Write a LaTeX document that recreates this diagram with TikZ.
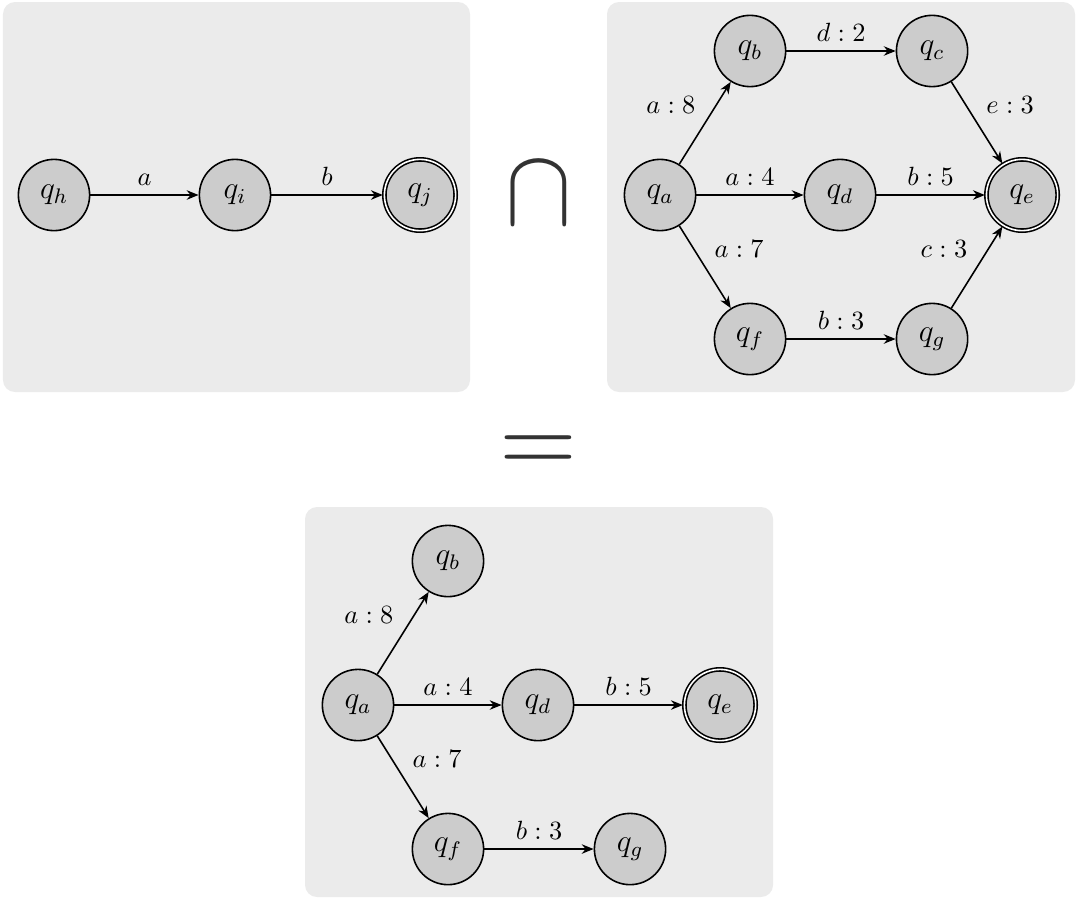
\documentclass[tikz,border=0pt]{standalone}
\usetikzlibrary{automata,arrows.meta}

\begin{document}
\begin{tikzpicture}[
    >={Stealth[length=4.5pt,width=3.6pt]},
    every state/.style={draw,semithick,fill=stfill,minimum size=0.95cm,inner sep=0pt,font=\large},
    panel/.style={fill=panelfill,rounded corners=0.16cm},
    trans/.style={->,semithick,auto},
    bigop/.style={text=black!80,scale=3.8}
  ]
    \colorlet{panelfill}{black!8}
    \colorlet{stfill}{black!20}
    \useasboundingbox (0,0) rectangle (14.373,12);

    % the three panels
    \fill [panel] (0.04,6.773) rectangle (6.267,11.973);
    \fill [panel] (8.093,6.773) rectangle (14.333,11.973);
    \fill [panel] (4.067,0.04) rectangle (10.307,5.24);

    % left automaton
    \node [state] (qh) at (0.72,9.4) {$q_h$};
    \node [state] (qi) at (3.133,9.4) {$q_i$};
    \node [state,accepting] (qj) at (5.6,9.4) {$q_j$};
    \draw [trans] (qh) -- node {$a$} (qi);
    \draw [trans] (qi) -- node {$b$} (qj);

    % right automaton (weighted)
    \node [state] (qa) at (8.8,9.4) {$q_a$};
    \node [state] (qb) at (10,11.32) {$q_b$};
    \node [state] (qc) at (12.427,11.32) {$q_c$};
    \node [state] (qd) at (11.2,9.4) {$q_d$};
    \node [state,accepting] (qe) at (13.627,9.4) {$q_e$};
    \node [state] (qf) at (10,7.48) {$q_f$};
    \node [state] (qg) at (12.427,7.48) {$q_g$};
    \draw [trans] (qa) -- node {$a:8$} (qb);
    \draw [trans] (qb) -- node {$d:2$} (qc);
    \draw [trans] (qc) -- node {$e:3$} (qe);
    \draw [trans] (qa) -- node {$a:4$} (qd);
    \draw [trans] (qd) -- node {$b:5$} (qe);
    \draw [trans] (qa) -- node {$a:7$} (qf);
    \draw [trans] (qf) -- node {$b:3$} (qg);
    \draw [trans] (qg) -- node {$c:3$} (qe);

    \node [bigop,yscale=1.1] (cap) at (7.187,9.413) {$\cap$};
    \node [bigop] (eq) at (7.18,5.94) {$=$};

    % result of the intersection
    \begin{scope}[shift={(-4.027,-6.8)}]
        \node [state] (pa) at (8.8,9.4) {$q_a$};
        \node [state] (pb) at (10,11.32) {$q_b$};
        \node [state] (pd) at (11.2,9.4) {$q_d$};
        \node [state,accepting] (pe) at (13.627,9.4) {$q_e$};
        \node [state] (pf) at (10,7.48) {$q_f$};
        \node [state] (pg) at (12.427,7.48) {$q_g$};
        \draw [trans] (pa) -- node {$a:8$} (pb);
        \draw [trans] (pa) -- node {$a:4$} (pd);
        \draw [trans] (pd) -- node {$b:5$} (pe);
        \draw [trans] (pa) -- node {$a:7$} (pf);
        \draw [trans] (pf) -- node {$b:3$} (pg);
    \end{scope}
\end{tikzpicture}
\end{document}
